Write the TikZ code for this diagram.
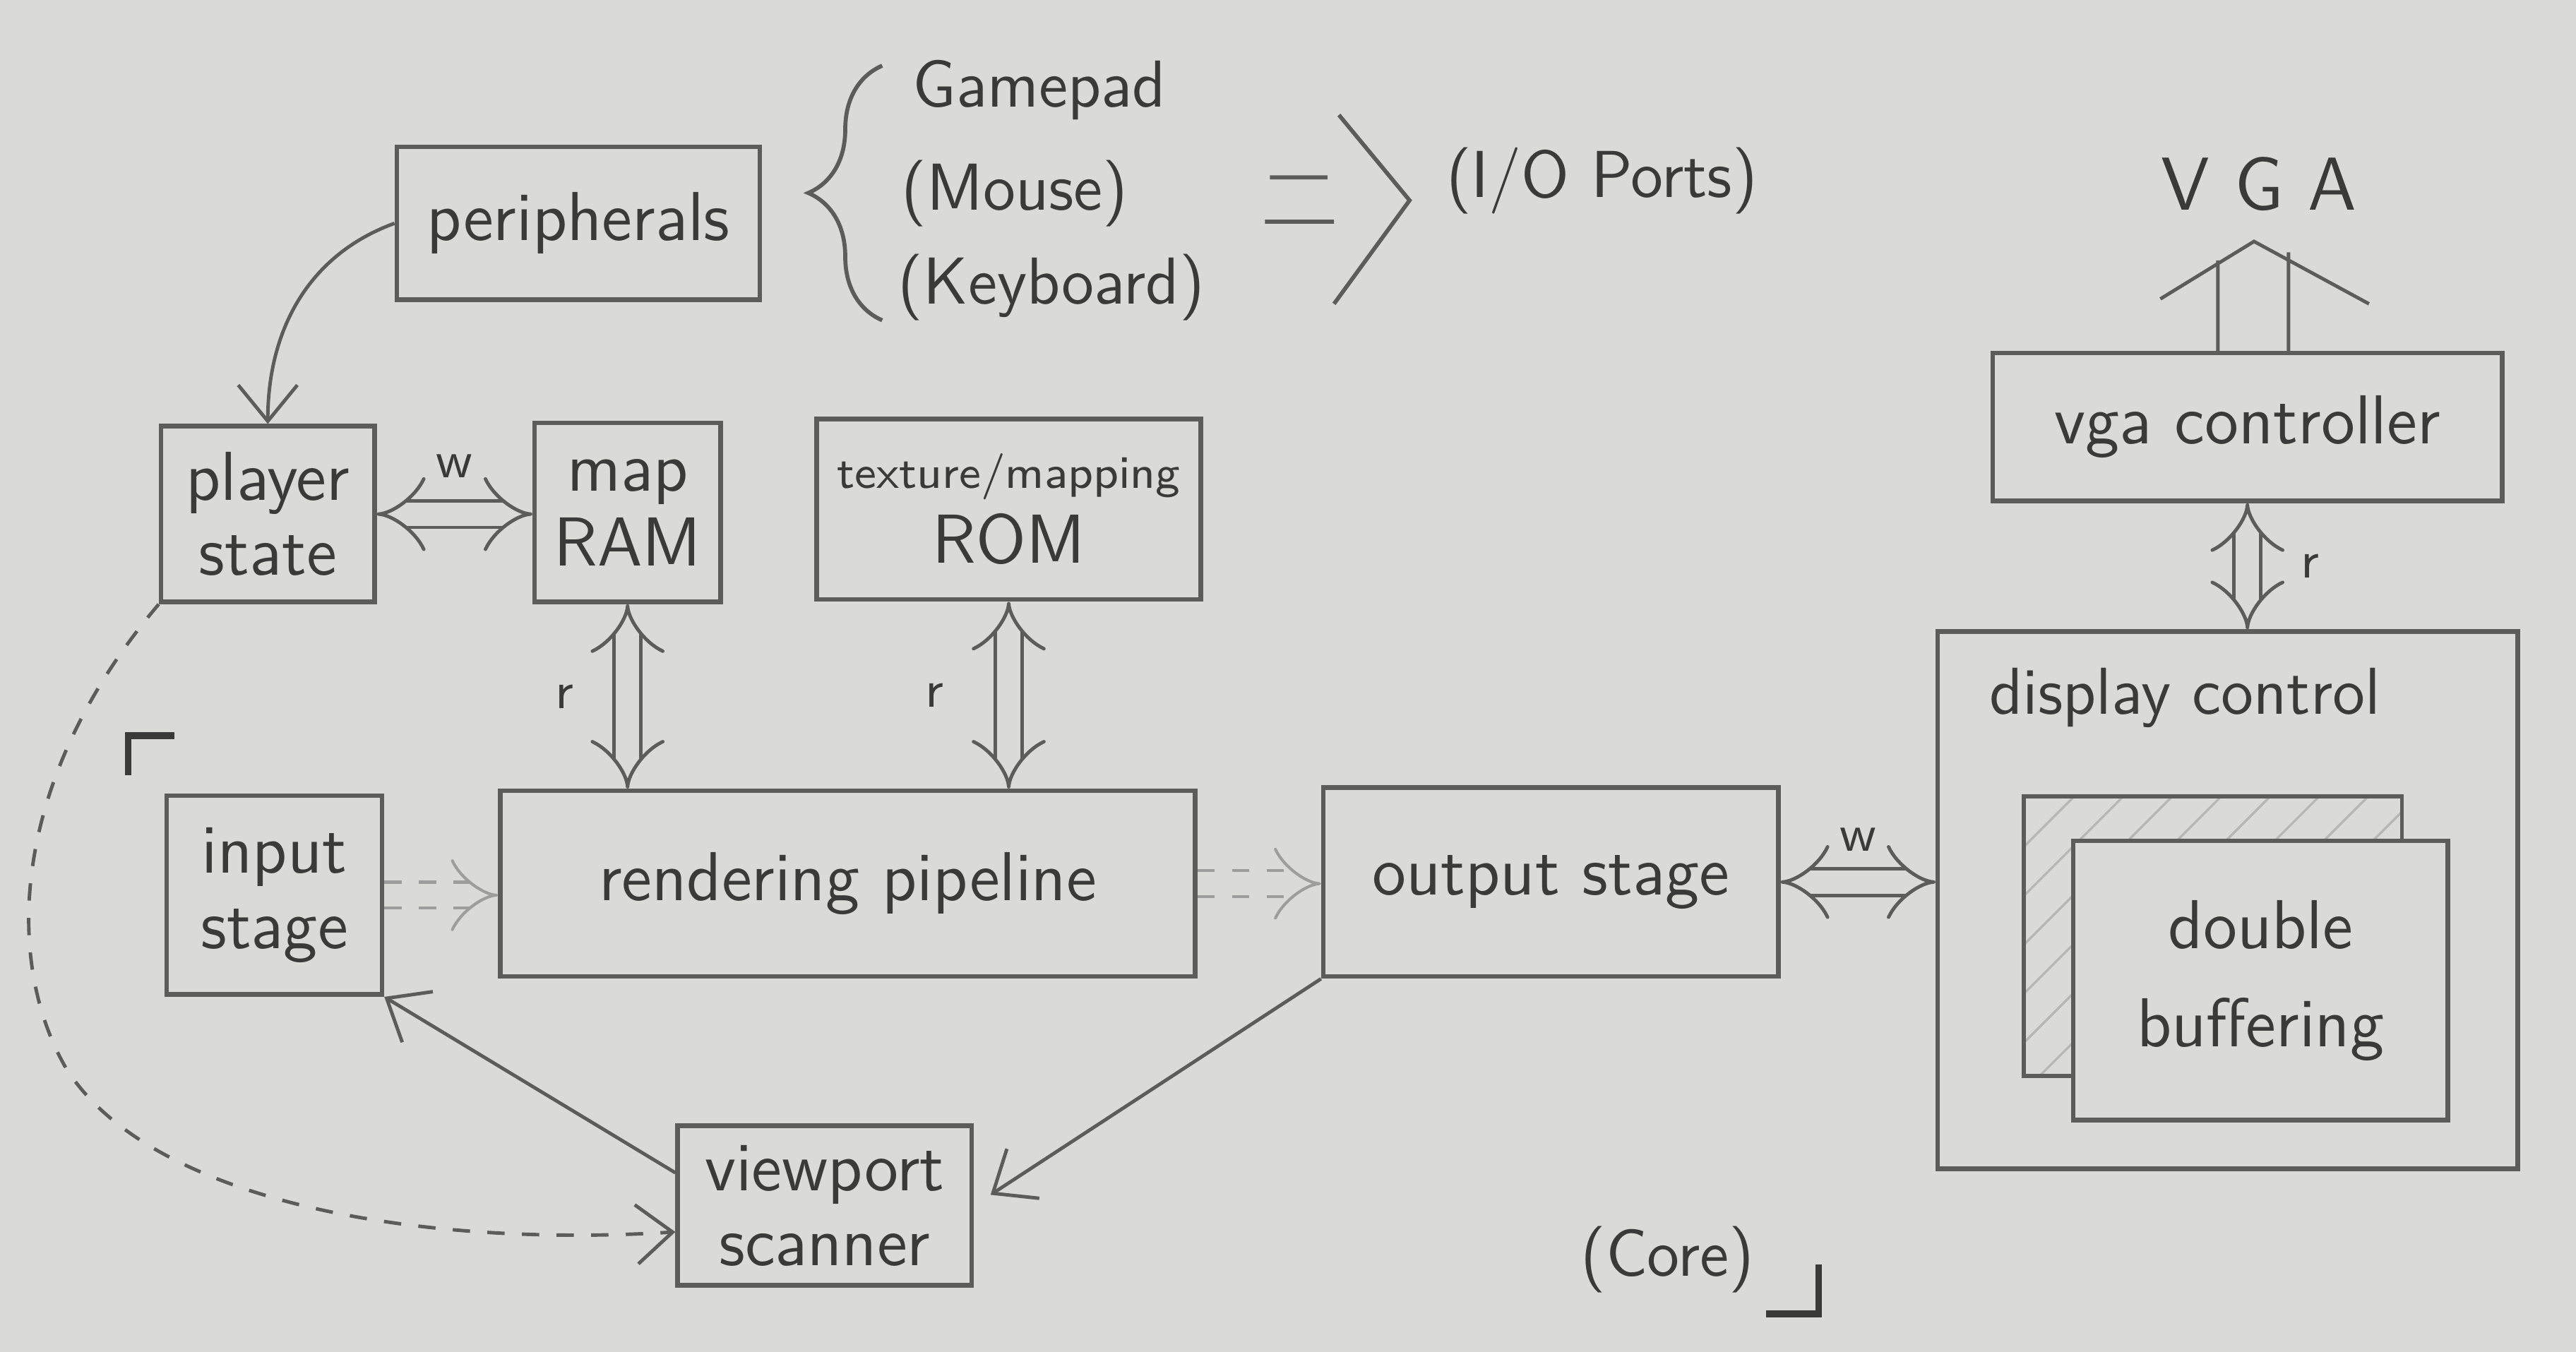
\documentclass[tikz,border=0pt]{standalone}
\usepackage{tikz}
\usetikzlibrary{positioning, arrows.meta, calc, decorations.pathreplacing, patterns.meta}
\definecolor{paper}{HTML}{DADBD6}
\definecolor{pencil}{HTML}{5C5D59}
\definecolor{lead}{HTML}{3A3B38}

\begin{document}
\begin{tikzpicture}[x=0.1mm, y=0.1mm,
  block/.style={draw=pencil, line width=0.8pt, align=center, text=lead,
                font=\sffamily\fontsize{12}{13}\selectfont},
  note/.style={text=lead, font=\sffamily\fontsize{11.5}{13}\selectfont},
  tag/.style={text=lead, font=\sffamily\fontsize{9}{11}\selectfont, inner sep=1pt},
  bus/.style={draw=pencil, line width=0.6pt, double=paper, double distance=4pt,
              {Implies}-{Implies}},
  feed/.style={draw=pencil!60, line width=0.5pt, double=paper, double distance=4pt,
               dashed, -{Implies}},
  flow/.style={draw=pencil, line width=0.6pt, -{Straight Barb[length=2.2mm, width=3.6mm]}},
]
  \path[use as bounding box, fill=paper] (0,0) rectangle (1568,-823);

  % Top: peripherals and the I/O ports
  \node[block, minimum width=2.21cm, minimum height=0.93cm] (periph) at (352,-136) {peripherals};
  \node[note, anchor=west, inner sep=0pt] (gamepad) at (555,-55) {Gamepad};
  \node[note, anchor=west, inner sep=0pt] (mouse) at (548,-118) {(Mouse)};
  \node[note, anchor=west, inner sep=0pt] (keyb) at (546,-175) {(Keyboard)};
  \draw[pencil, line width=0.7pt, decorate, decoration={brace, amplitude=4.5mm}] (537,-195) -- (537,-40);
  \draw[pencil, line width=0.7pt] (773,-108) -- (808,-108) (770,-135) -- (812,-135)
        (815,-70) -- (858,-122) -- (812,-185);
  \node[note] (io) at (975,-110) {(I/O Ports)};

  % Right: VGA side and display control
  \node[note, font=\sffamily\fontsize{13}{15}\selectfont] (vga) at (1375,-112) {V G A};
  \node[block, minimum width=3.10cm, minimum height=0.90cm] (vgactl) at (1368,-260) {vga controller};
  \draw[pencil, line width=0.6pt] ($(vgactl.north)+(-18,0)$) -- ++(0,55)
        ($(vgactl.north)+(25,0)$) -- ++(0,60)
        (1315,-182) -- (1372,-147) -- (1442,-185);
  \node[block, minimum width=3.53cm, minimum height=3.27cm] (display) at (1356,-548) {};
  \node[note] (dispname) at (1330,-425) {display control};
  \node[draw=pencil, line width=0.7pt, pattern={Lines[angle=45, distance=6pt, line width=0.4pt]},
        pattern color=pencil!45, minimum width=2.30cm, minimum height=1.70cm] (backbuf) at (1347,-570) {};
  \node[block, fill=paper, minimum width=2.28cm, minimum height=1.70cm,
        font=\sffamily\fontsize{12}{17}\selectfont] (frontbuf) at (1376,-597) {double\\buffering};
  \draw[bus] (vgactl.south) -- (vgactl.south |- display.north) node[tag, midway, right=8pt] {r};

  % Core: memories and pipeline stages
  \node[block, minimum width=1.30cm, minimum height=1.07cm] (player) at (163,-313) {player\\state};
  \node[block, minimum width=0.99cm, minimum height=1.09cm] (mapram) at (382,-312) {map\\RAM};
  \node[block, minimum width=2.34cm, minimum height=1.10cm] (rom) at (614,-310)
       {{\fontsize{8}{10}\selectfont texture/mapping}\\ROM};
  \node[block, minimum width=1.31cm, minimum height=1.21cm] (input) at (167,-545) {input\\stage};
  \node[block, minimum width=4.23cm, minimum height=1.13cm] (render) at (516,-538) {rendering pipeline};
  \node[block, minimum width=2.77cm, minimum height=1.15cm] (output) at (944,-537) {output stage};
  \node[block, minimum width=1.79cm, minimum height=0.96cm] (viewport) at (502,-734) {viewport\\scanner};

  \draw[flow] (periph.west) to[out=200, in=90] (player.north);
  \draw[bus] (player.east) -- (player.east -| mapram.west) node[tag, midway, above=5pt] {w};
  \draw[bus] (mapram.south) -- (mapram.south |- render.north) node[tag, midway, left=8pt] {r};
  \draw[bus] (rom.south) -- (rom.south |- render.north) node[tag, midway, left=10pt] {r};
  \draw[feed] (input.east) -- (input.east -| render.west);
  \draw[feed] (render.east) -- (render.east -| output.west);
  \draw[bus] (output.east) -- (output.east -| display.west) node[tag, midway, above=4pt] {w};
  \draw[flow] ($(viewport.north west)!0.3!(viewport.south west)$) -- (input.south east);
  \draw[flow, shorten >=1.2mm] (output.south west) -- (viewport.east);
  \draw[flow, dashed] (player.south west) .. controls (10,-470) and (0,-580) .. (40,-650)
        .. controls (90,-730) and (250,-760) .. (viewport.190);

  % Core bracket
  \draw[lead, line width=1.2pt] (78,-472) -- (78,-448) -- (106,-448);
  \draw[lead, line width=1.2pt] (1107,-770) -- (1107,-800) -- (1075,-800);
  \node[note] (core) at (1015,-767) {(Core)};
\end{tikzpicture}
\end{document}
